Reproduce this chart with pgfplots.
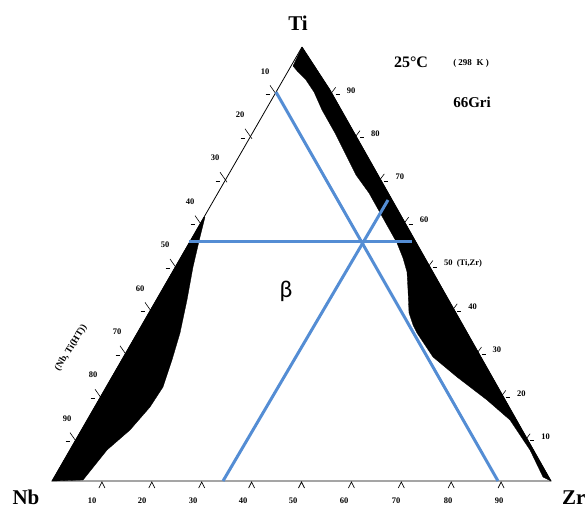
\documentclass[border=0pt]{standalone}
\usepackage{pgfplots}
\pgfplotsset{compat=1.18}
\usepackage{fontspec}
\setmainfont{Liberation Serif}
\newfontfamily\betafont{Carlito}
\definecolor{blu}{RGB}{84,141,212}
\begin{document}
\begin{tikzpicture}
\useasboundingbox (0,0) rectangle (585pt,509pt);
\begin{axis}[x=1pt,y=1pt,xmin=0,xmax=585,ymin=0,ymax=509,y dir=reverse,
  hide axis,clip=false,scale only axis,at={(0,0)},anchor=south west]
% black regions
\addplot[fill=black,draw=black,line width=0.3pt] coordinates {
 (302,47) (330,90) (551,481) (543,477) (530,450) (510,420) (487,400) (457,377)
 (433,357) (417,333) (413,325) (409,313) (408,290) (407,272) (403,258) (397,243)
 (388,227) (369,193) (356,175) (346,155) (335,133) (322,110) (314,92) (306,80)
 (298,72) (293,66) (302,47)};
\addplot[fill=black,draw=black,line width=0.3pt] coordinates {
 (204,217) (52,481) (83,480) (107,450) (130,430) (150,407) (163,387) (172,360)
 (180,333) (187,300) (193,267) (200,237) (205,217)};
% triangle edges
\addplot[black,line width=0.8pt] coordinates {(302,47) (52,481) (551,481)};
\addplot[black,line width=0.8pt] coordinates {(302,47) (330,90) (551,481)};
% left ticks
\addplot[black,line width=0.6pt] coordinates {(270,85.4) (277,95.4)};
\addplot[black,line width=0.6pt] coordinates {(265.5,94.4) (269.5,94.4)};
\addplot[black,line width=0.6pt] coordinates {(245,128.8) (252,138.8)};
\addplot[black,line width=0.6pt] coordinates {(240.5,137.8) (244.5,137.8)};
\addplot[black,line width=0.6pt] coordinates {(220,172.2) (227,182.2)};
\addplot[black,line width=0.6pt] coordinates {(215.5,181.2) (219.5,181.2)};
\addplot[black,line width=0.6pt] coordinates {(195,215.6) (202,225.6)};
\addplot[black,line width=0.6pt] coordinates {(190.5,224.6) (194.5,224.6)};
\addplot[black,line width=0.6pt] coordinates {(170,259) (177,269)};
\addplot[black,line width=0.6pt] coordinates {(165.5,268) (169.5,268)};
\addplot[black,line width=0.6pt] coordinates {(145,302.4) (152,312.4)};
\addplot[black,line width=0.6pt] coordinates {(140.5,311.4) (144.5,311.4)};
\addplot[black,line width=0.6pt] coordinates {(120,345.8) (127,355.8)};
\addplot[black,line width=0.6pt] coordinates {(115.5,354.8) (119.5,354.8)};
\addplot[black,line width=0.6pt] coordinates {(95,389.2) (102,399.2)};
\addplot[black,line width=0.6pt] coordinates {(90.5,398.2) (94.5,398.2)};
\addplot[black,line width=0.6pt] coordinates {(70,432.6) (77,442.6)};
\addplot[black,line width=0.6pt] coordinates {(65.5,441.6) (69.5,441.6)};
% right ticks
\addplot[black,line width=0.6pt] coordinates {(329.7,95.3) (335.7,87.3)};
\addplot[black,line width=0.6pt] coordinates {(335.7,94.3) (339.7,94.3)};
\addplot[black,line width=0.6pt] coordinates {(354,138.6) (360,130.6)};
\addplot[black,line width=0.6pt] coordinates {(360,137.6) (364,137.6)};
\addplot[black,line width=0.6pt] coordinates {(378.3,181.9) (384.3,173.9)};
\addplot[black,line width=0.6pt] coordinates {(384.3,180.9) (388.3,180.9)};
\addplot[black,line width=0.6pt] coordinates {(402.6,225.2) (408.6,217.2)};
\addplot[black,line width=0.6pt] coordinates {(408.6,224.2) (412.6,224.2)};
\addplot[black,line width=0.6pt] coordinates {(426.9,268.5) (432.9,260.5)};
\addplot[black,line width=0.6pt] coordinates {(432.9,267.5) (436.9,267.5)};
\addplot[black,line width=0.6pt] coordinates {(451.2,311.8) (457.2,303.8)};
\addplot[black,line width=0.6pt] coordinates {(457.2,310.8) (461.2,310.8)};
\addplot[black,line width=0.6pt] coordinates {(475.5,355.1) (481.5,347.1)};
\addplot[black,line width=0.6pt] coordinates {(481.5,354.1) (485.5,354.1)};
\addplot[black,line width=0.6pt] coordinates {(499.8,398.4) (505.8,390.4)};
\addplot[black,line width=0.6pt] coordinates {(505.8,397.4) (509.8,397.4)};
\addplot[black,line width=0.6pt] coordinates {(524.1,441.7) (530.1,433.7)};
\addplot[black,line width=0.6pt] coordinates {(530.1,440.7) (534.1,440.7)};
% bottom ticks
\addplot[black,line width=0.7pt] coordinates {(98.9,488) (101.9,482) (104.9,488)};
\addplot[black,line width=0.7pt] coordinates {(148.8,488) (151.8,482) (154.8,488)};
\addplot[black,line width=0.7pt] coordinates {(198.7,488) (201.7,482) (204.7,488)};
\addplot[black,line width=0.7pt] coordinates {(248.6,488) (251.6,482) (254.6,488)};
\addplot[black,line width=0.7pt] coordinates {(298.5,488) (301.5,482) (304.5,488)};
\addplot[black,line width=0.7pt] coordinates {(348.4,488) (351.4,482) (354.4,488)};
\addplot[black,line width=0.7pt] coordinates {(398.3,488) (401.3,482) (404.3,488)};
\addplot[black,line width=0.7pt] coordinates {(448.2,488) (451.2,482) (454.2,488)};
\addplot[black,line width=0.7pt] coordinates {(498.1,488) (501.1,482) (504.1,488)};
% blue lines
\addplot[blu,line width=3pt] coordinates {(189,241) (412,241)};
\addplot[blu,line width=3pt] coordinates {(276,92) (498,481)};
\addplot[blu,line width=3pt] coordinates {(223,481) (388,200)};
% tick labels
\begin{scope}[every node/.style={font=\fontsize{8.5}{8.5}\selectfont\bfseries,inner sep=0pt}]
\node at (axis cs:265,71.4) {10};
\node at (axis cs:240,114.8) {20};
\node at (axis cs:215,158.2) {30};
\node at (axis cs:190,201.6) {40};
\node at (axis cs:165,245) {50};
\node at (axis cs:140,288.4) {60};
\node at (axis cs:117,331.8) {70};
\node at (axis cs:93,375.2) {80};
\node at (axis cs:67,418.6) {90};
\node[anchor=west] at (axis cs:346.7,90.3) {90};
\node[anchor=west] at (axis cs:371,133.6) {80};
\node[anchor=west] at (axis cs:395.3,176.9) {70};
\node[anchor=west] at (axis cs:419.6,220.2) {60};
\node[anchor=west] at (axis cs:443.9,263.5) {50\ \ (Ti,Zr)};
\node[anchor=west] at (axis cs:468.2,306.8) {40};
\node[anchor=west] at (axis cs:492.5,350.1) {30};
\node[anchor=west] at (axis cs:516.8,393.4) {20};
\node[anchor=west] at (axis cs:541.1,436.7) {10};
\node at (axis cs:92,501) {10};
\node at (axis cs:142,501) {20};
\node at (axis cs:193,501) {30};
\node at (axis cs:243,501) {40};
\node at (axis cs:293,501) {50};
\node at (axis cs:344,501) {60};
\node at (axis cs:396,501) {70};
\node at (axis cs:448,501) {80};
\node at (axis cs:499,501) {90};
\end{scope}
% other labels
\node[font=\fontsize{21}{21}\selectfont\bfseries] at (axis cs:298,23) {Ti};
\node[font=\fontsize{21}{21}\selectfont\bfseries] at (axis cs:26,497) {Nb};
\node[font=\fontsize{21}{21}\selectfont\bfseries,anchor=west,inner sep=0pt] at (axis cs:562,498) {Zr};
\node[font=\fontsize{16}{16}\selectfont\bfseries] at (axis cs:411,62) {25°C};
\node[font=\fontsize{9}{9}\selectfont\bfseries] at (axis cs:471,63) {( 298\ \ K )};
\node[font=\fontsize{15}{15}\selectfont\bfseries] at (axis cs:472,102) {66Gri};
\node[font=\fontsize{9.5}{9.5}\selectfont\bfseries,rotate=58,inner sep=0pt] at (axis cs:71,348) {(Nb, Ti(HT))};
\node[font=\fontsize{24}{24}\selectfont\betafont] at (axis cs:286,291) {β};
\end{axis}
\end{tikzpicture}
\end{document}
